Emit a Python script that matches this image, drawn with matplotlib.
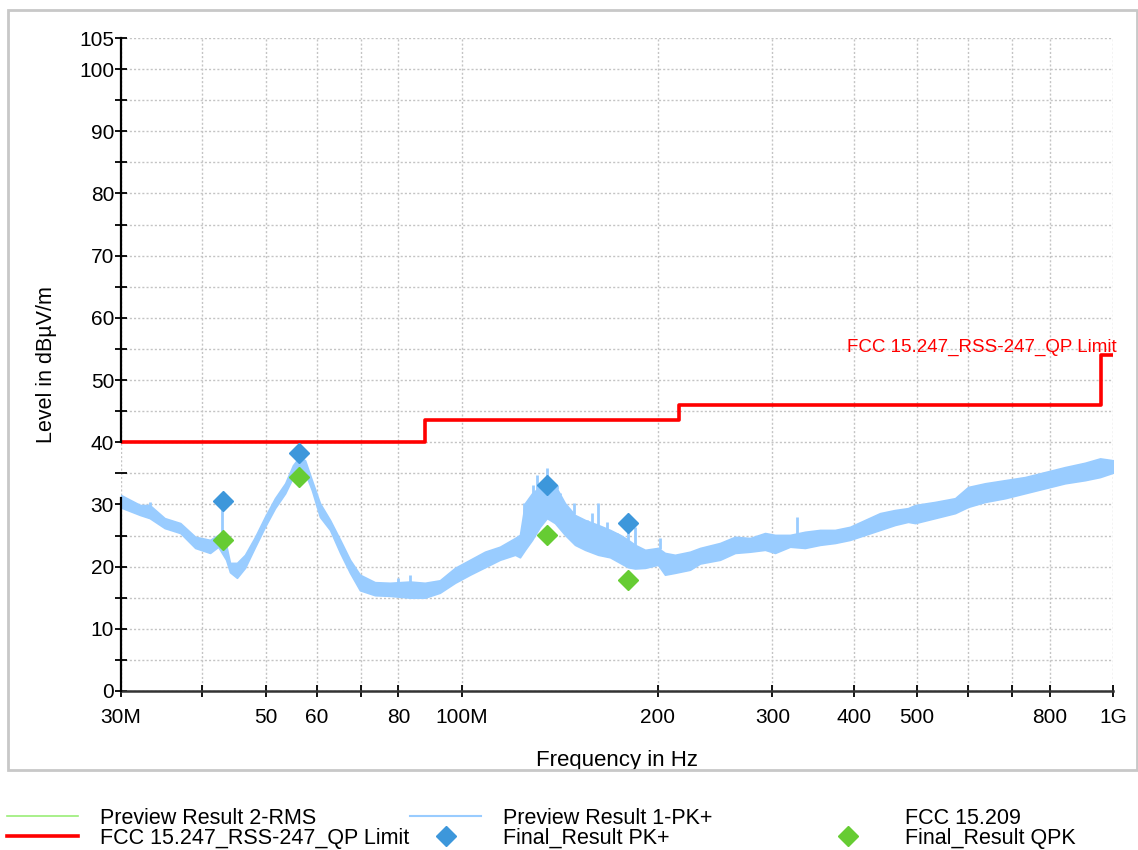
import numpy as np
import matplotlib
matplotlib.use("Agg")
import matplotlib.pyplot as plt
from matplotlib.lines import Line2D
from matplotlib.patches import Rectangle

plt.rcParams['font.family'] = ['Liberation Sans', 'DejaVu Sans']

# Preview Result 1-PK+ : band of the peak sweep (MHz, dBuV/m)
freq_mhz = [30.0, 32.1, 33.2, 35.0, 37.0, 39.0, 41.1, 42.3, 43.5, 44.1,
            45.2, 46.5, 48.2, 49.9, 51.7, 53.6, 55.1, 56.3, 57.5, 58.9,
            60.6, 62.8, 65.1, 67.4, 69.8, 73.6, 77.6, 83.3, 87.8, 92.6,
            97.7, 103.0, 108.6, 114.5, 120.8, 122.9, 125.1, 128.3, 131.9, 135.2,
            139.1, 144.1, 149.3, 154.7, 162.0, 169.0, 175.1, 180.1, 184.6, 191.3,
            200.2, 205.2, 212.6, 224.2, 232.3, 249.3, 262.9, 277.2, 292.3, 302.8,
            319.3, 336.6, 355.0, 374.3, 394.7, 416.2, 438.9, 462.7, 484.5, 496.7,
            533.2, 572.2, 599.1, 636.2, 682.8, 732.8, 786.4, 844.0, 905.8, 955.3,
            1000.0]
pk_upper = [31.5, 29.9, 29.9, 27.8, 27.0, 24.8, 24.3, 25.1, 23.5, 20.6,
            20.6, 21.9, 24.8, 28.0, 31.0, 33.4, 36.3, 37.6, 37.1, 33.9,
            30.2, 27.5, 24.3, 21.1, 18.7, 17.5, 17.4, 17.6, 17.4, 17.8,
            19.8, 21.1, 22.4, 23.2, 24.6, 25.1, 30.2, 31.8, 32.8, 33.5,
            33.1, 30.2, 28.3, 27.5, 26.7, 25.9, 25.1, 24.3, 23.5, 22.7,
            23.0, 22.2, 21.9, 22.4, 23.0, 23.8, 24.8, 24.6, 25.4, 25.1,
            25.1, 25.6, 25.9, 25.9, 26.4, 27.5, 28.6, 29.1, 29.4, 29.9,
            30.4, 31.0, 32.8, 33.4, 33.9, 34.4, 35.2, 36.0, 36.7, 37.4,
            37.1]
pk_lower = [29.5, 28.3, 27.8, 26.2, 25.4, 23.0, 22.2, 23.2, 21.1, 19.1,
            18.2, 19.8, 23.2, 26.4, 29.4, 31.8, 34.4, 36.0, 35.1, 32.3,
            28.0, 25.9, 22.2, 19.0, 16.2, 15.4, 15.3, 15.0, 15.0, 15.8,
            17.4, 18.7, 19.9, 21.1, 21.9, 21.5, 22.7, 24.3, 26.4, 27.8,
            27.0, 25.1, 23.5, 22.7, 21.9, 21.5, 20.6, 19.9, 19.7, 19.8,
            20.3, 18.7, 19.0, 19.5, 20.5, 21.1, 22.2, 22.4, 22.7, 22.2,
            23.2, 23.0, 23.5, 23.8, 24.3, 25.1, 25.9, 26.7, 27.2, 27.0,
            27.8, 28.6, 29.6, 30.4, 31.0, 31.8, 32.6, 33.4, 33.9, 34.4,
            35.1]

# narrow spikes sticking out of the band
spike_mhz = [33.2, 42.9, 79.9, 83.3, 124.7, 128.7, 130.5, 135.2, 140.1, 141.6,
             148.8, 155.8, 158.6, 162.0, 167.2, 173.2, 180.1, 184.6, 201.7, 327.3]
spike_top = [30.4, 29.4, 18.2, 18.7, 30.2, 33.1, 34.7, 35.9, 33.1, 31.8,
             30.2, 27.5, 28.6, 30.2, 27.2, 25.4, 28.3, 26.4, 24.6, 28.0]
spike_base = [29.0, 24.0, 17.4, 17.6, 25.0, 30.0, 31.0, 33.0, 32.5, 31.5,
              28.5, 27.3, 27.0, 26.7, 26.0, 25.2, 24.3, 23.5, 22.8, 25.3]

# FCC 15.247 / RSS-247 QP limit steps
limit_mhz = [30, 88, 88, 216, 216, 960, 960, 1000]
limit_db = [40, 40, 43.5, 43.5, 46, 46, 54, 54]

# final measurements
final_mhz = [43.0, 56.3, 135.2, 180.1]
final_pk = [30.5, 38.3, 33.1, 27.0]
final_qpk = [24.3, 34.4, 25.1, 17.8]

xticks = [30, 40, 50, 60, 70, 80, 100, 200, 300, 400, 500, 600, 700, 800, 1000]
xticklabels = ['30M', '', '50', '60', '', '80', '100M', '200', '300', '400',
               '500', '', '', '800', '1G']
yticks = [0, 10, 20, 30, 40, 50, 60, 70, 80, 90, 100, 105]
yminor = [5, 15, 25, 35, 45, 55, 65, 75, 85, 95]

c_pk = '#99ccff'
c_lim = '#ff0000'
c_pkm = '#3d97db'
c_qpm = '#66cc33'
c_rms = '#99ee77'

fig = plt.figure(figsize=(11.38, 8.5), dpi=100)
ax = fig.add_axes([121/1138, 1-691/850, 992/1138, 653/850])

# outer frame round the chart
fig.patches.append(Rectangle((8/1138, 1-770/850), 1129/1138, 760/850,
                             transform=fig.transFigure, fill=False,
                             edgecolor='#c8c8c8', linewidth=2))

ax.fill_between(freq_mhz, pk_lower, pk_upper, color=c_pk, linewidth=1.2,
                edgecolor=c_pk, zorder=2)
ax.vlines(spike_mhz, spike_base, spike_top, color=c_pk, linewidth=2, zorder=2)
ax.plot(limit_mhz, limit_db, color=c_lim, linewidth=2.6, zorder=3)
ax.plot(final_mhz, final_pk, 'D', color=c_pkm, markersize=10, zorder=4)
ax.plot(final_mhz, final_qpk, 'D', color=c_qpm, markersize=10, zorder=4)
ax.text(1014, 54.6, 'FCC 15.247_RSS-247_QP Limit', color=c_lim, fontsize=13.5,
        ha='right', va='baseline')

ax.set_xscale('log')
ax.set_xlim(30, 1000)
ax.set_ylim(0, 105)
ax.xaxis.set_minor_locator(matplotlib.ticker.NullLocator())
ax.set_xticks(xticks)
ax.set_xticklabels(xticklabels)
ax.set_yticks(yticks)
ax.set_yticks(yminor, minor=True)

ax.grid(True, which='both', color='#c4c4c4', linestyle=(0, (1.5, 1.5)), linewidth=1)
ax.set_axisbelow(True)
ax.tick_params(axis='both', which='both', direction='inout', length=8, width=1.3,
               labelsize=15, color='black')
ax.tick_params(axis='x', pad=8)
ax.tick_params(axis='y', pad=1)

for s in ['top', 'right', 'left']:
    ax.spines[s].set_visible(False)
ax.spines['bottom'].set_linewidth(1.8)
ax.spines['bottom'].set_color('#333333')
# left axis line, broken under the 35 dB tick
ax.axvline(30, 0, 31/105, color='black', linewidth=1.6, zorder=5, clip_on=False)
ax.axvline(30, 40/105, 1, color='black', linewidth=1.6, zorder=5, clip_on=False)

ax.set_xlabel('Frequency in Hz', fontsize=16, labelpad=17)
ax.set_ylabel('Level in dBµV/m', fontsize=15.5, labelpad=16)

# legend in three columns below the frame
cols = [
    ([Line2D([], [], color=c_rms, linewidth=1.2),
      Line2D([], [], color=c_lim, linewidth=2.6)],
     ['Preview Result 2-RMS', 'FCC 15.247_RSS-247_QP Limit'], 7),
    ([Line2D([], [], color=c_pk, linewidth=1.5),
      Line2D([], [], color='none', marker='D', markersize=10,
             markerfacecolor=c_pkm, markeredgecolor=c_pkm)],
     ['Preview Result 1-PK+', 'Final_Result PK+'], 410),
    ([Line2D([], [], color='none'),
      Line2D([], [], color='none', marker='D', markersize=10,
             markerfacecolor=c_qpm, markeredgecolor=c_qpm)],
     ['FCC 15.209', 'Final_Result QPK'], 812),
]
for handles, labels, x0 in cols:
    fig.legend(handles, labels, loc='upper left',
               bbox_to_anchor=(x0/1138, 1-808/850), frameon=False,
               fontsize=15.5, handlelength=3.3, handletextpad=1.0,
               labelspacing=-0.05, borderpad=0, borderaxespad=0)

fig.savefig('out.png', dpi=100)
